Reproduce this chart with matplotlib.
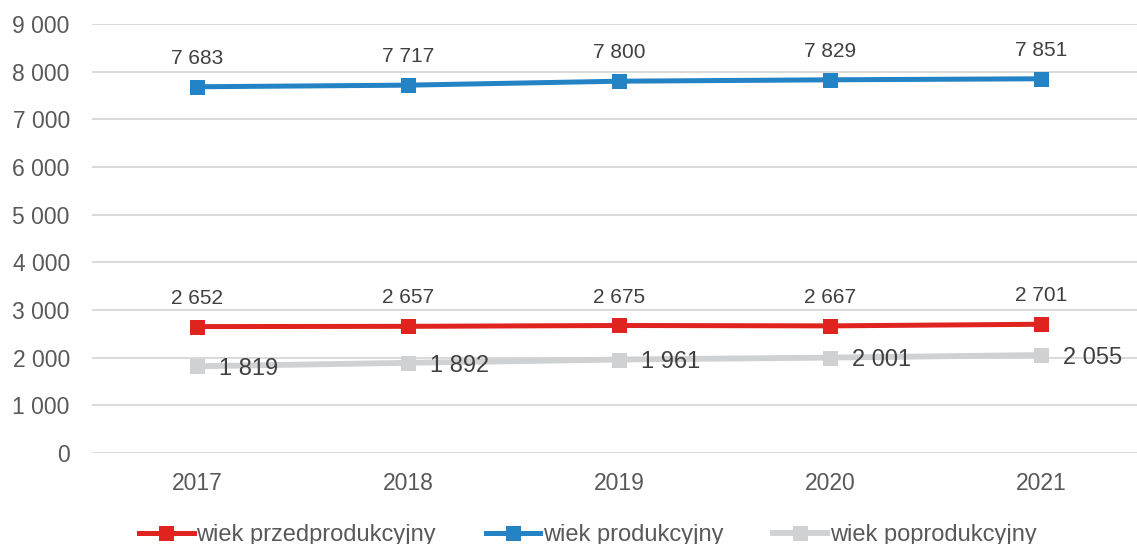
import matplotlib
matplotlib.use("Agg")
import matplotlib.pyplot as plt
from matplotlib.ticker import FuncFormatter, MultipleLocator

# ── Data ──────────────────────────────────────────────────────────────────────
years = ["2017", "2018", "2019", "2020", "2021"]
pre_working = [2652, 2657, 2675, 2667, 2701]
working = [7683, 7717, 7800, 7829, 7851]
post_working = [1819, 1892, 1961, 2001, 2055]

labels = ["wiek przedprodukcyjny", "wiek produkcyjny", "wiek poprodukcyjny"]

# ── Style ─────────────────────────────────────────────────────────────────────
C_RED = "#DF2420"
C_BLUE = "#2383C5"
C_GRAY = "#D0D1D3"
C_TICK = "#595959"
C_LABEL = "#404040"
C_GRID = "#D9D9D9"

plt.rcParams["font.family"] = ["Liberation Sans", "DejaVu Sans"]


def fmt(v):
    return f"{int(v):,}".replace(",", " ")


fig = plt.figure(figsize=(11.37, 5.44), dpi=100)
ax = fig.add_axes([92 / 1137, 1 - 453 / 544, 1 - 92 / 1137, (453 - 24) / 544])

x = list(range(len(years)))

series = [
    (pre_working, C_RED, 3.6),
    (working, C_BLUE, 3.6),
    (post_working, C_GRAY, 4.2),
]
handles = []
for vals, col, lw in series:
    h, = ax.plot(x, vals, color=col, linewidth=lw, marker="s", markersize=10.8,
                 markeredgewidth=0, zorder=3)
    handles.append(h)

# data labels
for xi, v in zip(x, working):
    ax.annotate(fmt(v), (xi, v), xytext=(0, 20.5), textcoords="offset points",
                ha="center", va="center", fontsize=15, color=C_LABEL)
for xi, v in zip(x, pre_working):
    ax.annotate(fmt(v), (xi, v), xytext=(0, 20.5), textcoords="offset points",
                ha="center", va="center", fontsize=15, color=C_LABEL)
for xi, v in zip(x, post_working):
    ax.annotate(fmt(v), (xi, v), xytext=(16, -2), textcoords="offset points",
                ha="left", va="center", fontsize=17, color=C_LABEL)

# axes
ax.set_xlim(-0.4976, 4.455)
ax.set_ylim(0, 9000)
ax.yaxis.set_major_locator(MultipleLocator(1000))
ax.yaxis.set_major_formatter(FuncFormatter(lambda v, p: fmt(v)))
ax.set_xticks(x)
ax.set_xticklabels(years)
ax.grid(axis="y", color=C_GRID, linewidth=1.4)
ax.set_axisbelow(True)
for s in ax.spines.values():
    s.set_visible(False)
ax.tick_params(axis="y", length=0, pad=16, labelsize=16.5, labelcolor=C_TICK)
ax.tick_params(axis="x", length=0, pad=14, labelsize=16.5, labelcolor=C_TICK)

fig.legend(handles, labels, loc="center", bbox_to_anchor=(588 / 1137, 1 - 535 / 544),
           ncol=3, frameon=False, fontsize=17, handlelength=2.3, handletextpad=0.12,
           columnspacing=2.1, borderpad=0, labelcolor=C_TICK)

fig.savefig("out.png", dpi=100)
